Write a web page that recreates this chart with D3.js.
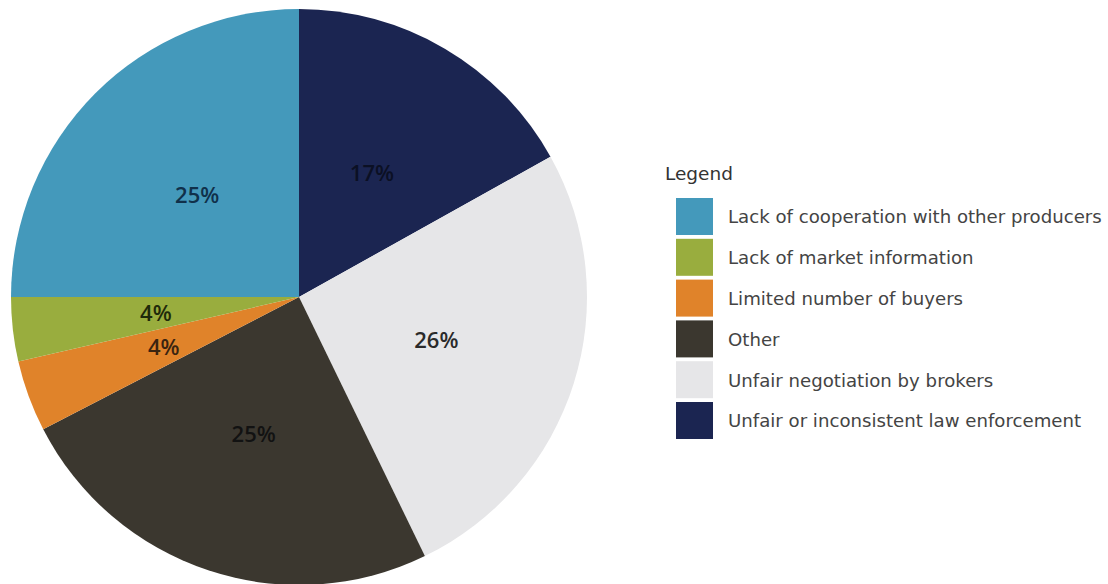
<!DOCTYPE html>
<html>
<head>
<meta charset="utf-8">
<script src="https://cdn.jsdelivr.net/npm/d3@7"></script>
<style>
  body { margin: 0; background: #fff; }
  svg { display: block; }
</style>
</head>
<body>
<figure id="pie" style="margin:0"></figure>
<script>
// slices clockwise from 12 o'clock
const categories = [
  "Unfair or inconsistent law enforcement",
  "Unfair negotiation by brokers",
  "Other",
  "Limited number of buyers",
  "Lack of market information",
  "Lack of cooperation with other producers"
];
const values = [16.9, 25.9, 24.6, 4.0, 3.6, 25.0];
const colors = ["#1b2551", "#e6e6e8", "#3b372f", "#e0832a", "#99ad3e", "#4499bb"];
const labelColors = ["#0b1024", "#2a2a2a", "#121212", "#3a2410", "#1f2a0a", "#10304a"];

// legend order (alphabetical, as in the reference)
const legendOrder = [
  "Lack of cooperation with other producers",
  "Lack of market information",
  "Limited number of buyers",
  "Other",
  "Unfair negotiation by brokers",
  "Unfair or inconsistent law enforcement"
];

const width = 1108, height = 584;
const cx = 299, cy = 297, radius = 288;

const svg = d3.select("figure#pie")
  .append("svg")
  .attr("width", width)
  .attr("height", height);

const data = categories.map((c, i) => ({ name: c, value: values[i] }));

const color = d3.scaleOrdinal()
  .domain(categories)
  .range(colors);

const pie = d3.pie()
  .sort(null)
  .value(d => d.value);

const arc = d3.arc()
  .innerRadius(0)
  .outerRadius(radius);

const labelArc = d3.arc()
  .innerRadius(radius * 0.5)
  .outerRadius(radius * 0.5);

const g = svg.append("g")
  .attr("transform", `translate(${cx},${cy})`);

const arcs = pie(data);

g.selectAll("path")
  .data(arcs)
  .join("path")
  .attr("d", arc)
  .attr("fill", d => color(d.data.name));

g.selectAll("text")
  .data(arcs)
  .join("text")
  .attr("transform", d => `translate(${labelArc.centroid(d)})`)
  .attr("text-anchor", "middle")
  .attr("dy", "0.36em")
  .style("font-family", "'Open Sans', 'DejaVu Sans', sans-serif")
  .style("font-size", "22px")
  .style("font-weight", "600")
  .attr("fill", (d, i) => labelColors[i])
  .text(d => Math.round(d.data.value) + "%");

// Legend
const legend = svg.append("g")
  .attr("transform", "translate(665,0)");

legend.append("text")
  .attr("x", 0)
  .attr("y", 180)
  .style("font-family", "'DejaVu Sans', Verdana, sans-serif")
  .style("font-size", "18.5px")
  .attr("fill", "#333")
  .text("Legend");

const item = legend.selectAll("g.item")
  .data(legendOrder)
  .join("g")
  .attr("class", "item")
  .attr("transform", (d, i) => `translate(11,${198 + i * 40.8})`);

item.append("rect")
  .attr("width", 37)
  .attr("height", 37)
  .attr("fill", d => color(d));

const itemText = item.append("text")
  .attr("x", 52)
  .attr("y", 19)
  .attr("dy", "0.35em")
  .style("font-family", "'DejaVu Sans', Verdana, sans-serif")
  .style("font-size", "14px")
  .attr("fill", "#444")
  .text(d => d);

// longest entry spans about 374px in the reference
const longest = itemText.filter((d, i) => i === 0).node().getComputedTextLength();
itemText.style("font-size", (14 * 374 / longest) + "px");
</script>
</body>
</html>
